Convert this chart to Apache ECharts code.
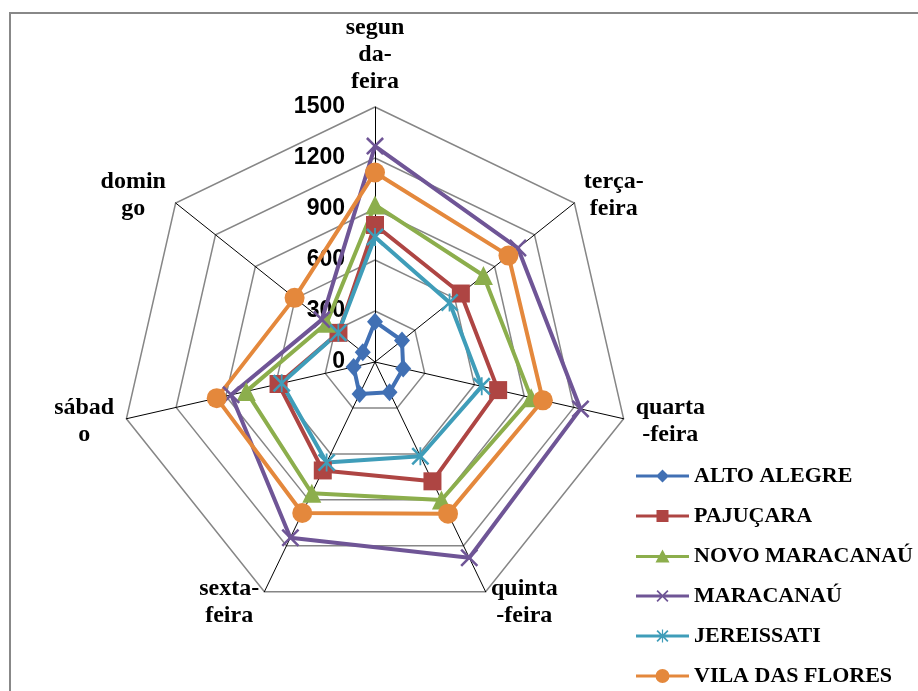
<!DOCTYPE html>
<html>
<head>
<meta charset="utf-8">
<script src="https://cdn.jsdelivr.net/npm/echarts@6/dist/echarts.min.js"></script>
<style>
  html, body { margin: 0; padding: 0; background: #fff; }
  #frame { position: absolute; left: 9px; top: 12px; width: 1000px; height: 1000px;
           border-left: 2px solid #888; border-top: 2px solid #888; }
  #chart { position: absolute; left: 0; top: 0; width: 918px; height: 691px; }
</style>
</head>
<body>
<div id="frame"></div>
<div id="chart"></div>
<script>
// Days (clockwise from top, as in the reference)
const days = ['segun\nda-\nfeira', 'terça-\nfeira', 'quarta\n-feira', 'quinta\n-feira', 'sexta-\nfeira', 'sábad\no', 'domin\ngo'];
// Radial tick labels
const ticks = [0, 300, 600, 900, 1200, 1500];
// Series
const seriesNames = ['ALTO ALEGRE', 'PAJUÇARA', 'NOVO MARACANAÚ', 'MARACANAÚ', 'JEREISSATI', 'VILA DAS FLORES'];
const altoAlegre     = [237, 203, 170, 197, 209, 129, 92];
const pajucara       = [806, 646, 743, 779, 708, 582, 275];
const novoMaracanau  = [924, 816, 942, 901, 857, 777, 365];
const maracanau      = [1270, 1075, 1240, 1278, 1147, 868, 400];
const jereissati     = [735, 561, 644, 615, 656, 563, 276];
const vilaDasFlores  = [1115, 1004, 1013, 990, 986, 955, 605];

const values = [altoAlegre, pajucara, novoMaracanau, maracanau, jereissati, vilaDasFlores];
const colors = ['#4170B4', '#AE4543', '#8CAE4C', '#6F5596', '#3F9DB9', '#E4883C'];

const xPath = 'M2,0L10,8L18,0L20,2L12,10L20,18L18,20L10,12L2,20L0,18L8,10L0,2Z';
const starPath = xPath + ' M9,0H11V20H9Z';
const symbols = ['diamond', 'rect', 'triangle', 'path://' + xPath, 'path://' + starPath, 'circle'];
const symbolSizes = [[16, 18], 18, 19, 18, 18, 20];

// legend icons: line + marker in a 53x14 box
const L = 'M0,5.5H53V8.5H0Z ';
const legendIcons = [
  'path://' + L + 'M26.5,0.5L33,7L26.5,13.5L20,7Z',
  'path://' + L + 'M20.5,1H32.5V13H20.5Z',
  'path://' + L + 'M26.5,0L33.5,13H19.5Z',
  'path://' + L + 'M21.7,1L26.5,5.8L31.3,1L32.5,2.2L27.7,7L32.5,11.8L31.3,13L26.5,8.2L21.7,13L20.5,11.8L25.3,7L20.5,2.2Z',
  'path://' + L + 'M21.7,1L26.5,5.8L31.3,1L32.5,2.2L27.7,7L32.5,11.8L31.3,13L26.5,8.2L21.7,13L20.5,11.8L25.3,7L20.5,2.2Z M25.9,0.5H27.1V13.5H25.9Z',
  'path://' + L + 'M19.5,7A7,7 0 1,1 33.5,7A7,7 0 1,1 19.5,7Z'
];

// ECharts lays indicators out counter-clockwise; reorder so they appear clockwise
const order = [0, 6, 5, 4, 3, 2, 1];

// Name styling: each multi-line name is centred line by line inside its own block
const nameFont = { fontFamily: 'Liberation Serif', fontWeight: 'bold', fontSize: 24, lineHeight: 27, color: '#000' };
const ctx = document.createElement('canvas').getContext('2d');
ctx.font = 'bold 24px "Liberation Serif"';
const rich = {};
days.forEach((d, i) => {
  const w = Math.max(...d.split('\n').map(l => ctx.measureText(l).width));
  rich['c' + i] = Object.assign({ width: Math.ceil(w), align: 'center' }, nameFont);
});

const indicator = order.map((i, k) => {
  const ind = { name: days[i], min: ticks[0], max: ticks[ticks.length - 1] };
  if (k === 0) ind.axisLabel = { show: true };
  return ind;
});

const chart = echarts.init(document.getElementById('chart'), null, { renderer: 'canvas' });
chart.setOption({
  animation: false,
  backgroundColor: 'transparent',
  legend: {
    orient: 'vertical',
    left: 631,
    top: 459,
    height: 300,
    itemWidth: 53,
    itemHeight: 14,
    itemGap: 16,
    textStyle: { fontFamily: 'Liberation Serif', fontWeight: 'bold', fontSize: 22, color: '#000', lineHeight: 24 },
    data: seriesNames.map((n, i) => ({ name: n, icon: legendIcons[i], itemStyle: { color: colors[i] } }))
  },
  radar: {
    center: [375, 362],
    radius: 255,
    shape: 'polygon',
    splitNumber: ticks.length - 1,
    indicator: indicator,
    nameGap: 12,
    axisName: Object.assign({}, nameFont, {
      rich: rich,
      formatter: (name) => {
        const i = days.indexOf(name);
        return name.split('\n').map(l => '{c' + i + '|' + l + '}').join('\n');
      }
    }),
    axisLine: { show: true, lineStyle: { color: '#000', width: 1 } },
    splitLine: { lineStyle: { color: '#868686', width: 1.5 } },
    splitArea: { show: false },
    axisTick: { show: false },
    axisLabel: { show: false, color: '#000', fontFamily: 'Liberation Sans', fontWeight: 'bold', fontSize: 23, margin: 30,
                 formatter: (v) => String(v) }
  },
  series: [{
    type: 'radar',
    data: values.map((v, i) => ({
      name: seriesNames[i],
      value: order.map(j => v[j]),
      symbol: symbols[i],
      symbolSize: symbolSizes[i],
      lineStyle: { color: colors[i], width: 4 },
      itemStyle: { color: colors[i] }
    }))
  }]
});
</script>
</body>
</html>
